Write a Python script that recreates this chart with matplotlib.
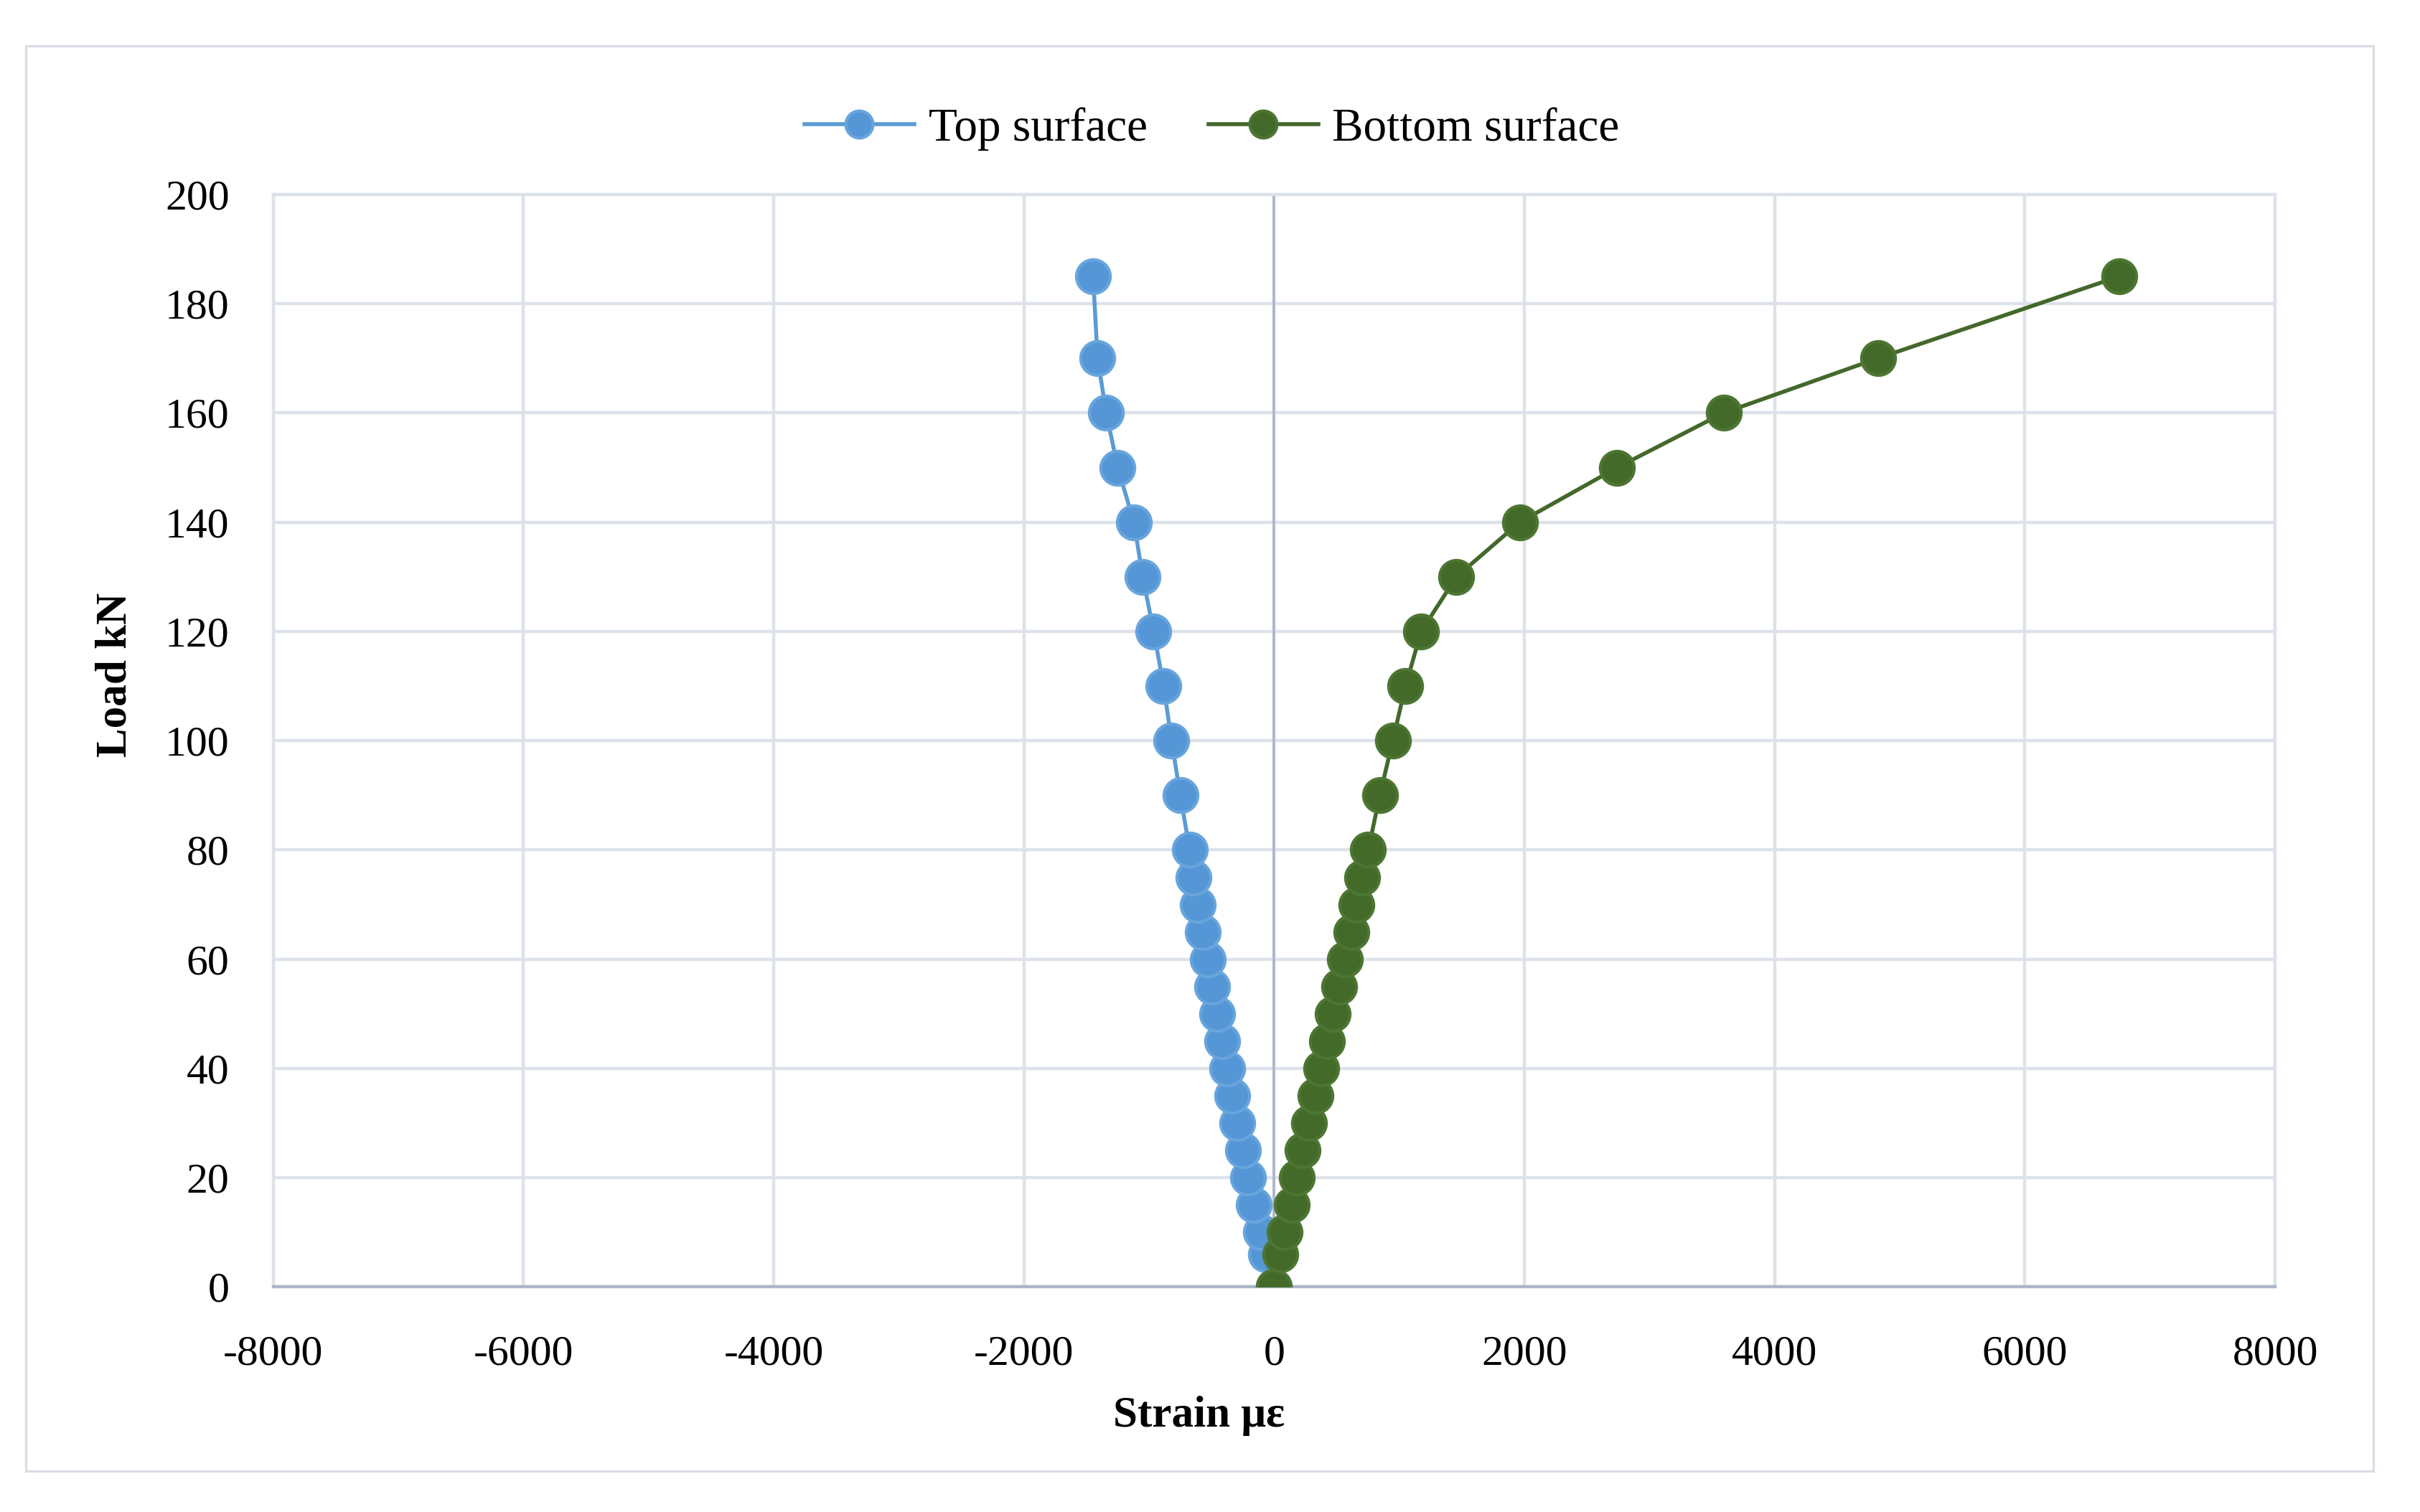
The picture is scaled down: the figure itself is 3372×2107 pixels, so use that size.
import matplotlib.pyplot as plt
from matplotlib.patches import Rectangle
from matplotlib.ticker import MultipleLocator

# load steps (kN) and strains (micro-strain)
load = [0, 6, 10, 15, 20, 25, 30, 35, 40, 45, 50, 55, 60, 65, 70, 75, 80,
        90, 100, 110, 120, 130, 140, 150, 160, 170, 185]
top_strain = [0, -67, -105, -162, -206, -248, -292, -335, -373, -415, -453,
              -493, -532, -570, -608, -644, -675, -750, -820, -883, -963,
              -1050, -1121, -1250, -1342, -1411, -1447]
bottom_strain = [0, 52, 82, 140, 182, 226, 277, 329, 377, 423, 470, 522, 568,
                 616, 660, 704, 752, 845, 948, 1050, 1175, 1457, 1963, 2742,
                 3592, 4825, 6755]

plt.rcParams["font.family"] = ["Liberation Serif", "DejaVu Serif"]
plt.rcParams["axes.unicode_minus"] = False

grid_col = "#dde2ea"
axis_col = "#adb6c9"

fig = plt.figure(figsize=(16.86, 10.535), dpi=200)
ax = fig.add_axes([0.1129, 0.1488, 0.9401 - 0.1129, 0.8714 - 0.1488])

# outer chart frame
fig.patches.append(Rectangle((36 / 3372, 1 - 2050 / 2107), (3307 - 36) / 3372,
                             (2050 - 64) / 2107, transform=fig.transFigure,
                             fill=False, edgecolor="#d9dde4", linewidth=1.2))

ax.plot(top_strain, load, color="#5B9BD5", linewidth=2.0, marker="o",
        markersize=17, markerfacecolor="#5596d6", markeredgecolor="#68a5dd",
        markeredgewidth=1.5, label="Top surface", zorder=3)
ax.plot(bottom_strain, load, color="#43682B", linewidth=2.0, marker="o",
        markersize=17, markerfacecolor="#436a29", markeredgecolor="#4d7633",
        markeredgewidth=1.5, label="Bottom surface", zorder=4)

ax.set_xlim(-8000, 8000)
ax.set_ylim(0, 200)
ax.xaxis.set_major_locator(MultipleLocator(2000))
ax.yaxis.set_major_locator(MultipleLocator(20))
ax.grid(True, color=grid_col, linewidth=1.6)
ax.set_axisbelow(True)
ax.axvline(0, color=axis_col, linewidth=1.3, zorder=2)

for side in ["left", "right", "top"]:
    ax.spines[side].set_color(grid_col)
    ax.spines[side].set_linewidth(1.6)
ax.spines["bottom"].set_color(axis_col)
ax.spines["bottom"].set_linewidth(1.6)

ax.tick_params(axis="both", length=0, labelsize=21.5)
ax.tick_params(axis="x", pad=24)
ax.tick_params(axis="y", pad=22)

ax.set_xlabel("Strain με", fontsize=22, fontweight="bold")
ax.set_ylabel("Load kN", fontsize=22, fontweight="bold")
ax.xaxis.set_label_coords(0.4626, -0.0995)
ax.yaxis.set_label_coords(-0.0688, 0.5606)

fig.legend(loc="center", bbox_to_anchor=(0.5008, 0.9146), ncol=2,
           frameon=False, fontsize=23.5, handlelength=2.35, handletextpad=0.3,
           columnspacing=1.3, markerscale=0.8)

fig.savefig("out.png", dpi=200)
